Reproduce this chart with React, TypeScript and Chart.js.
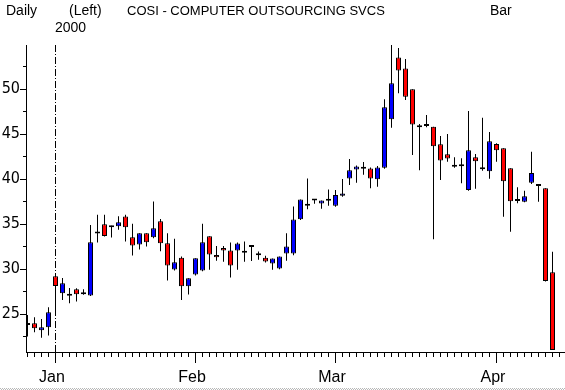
import { useEffect, useRef } from "react";
import { Chart, registerables } from "chart.js";

Chart.register(...registerables);

// ---- data (trading-day index 0..75, Dec 1999 - Apr 2000) ----
const opens = [
  23.9, 23.98, 23.2, 23.54, 29.2, 27.31, 27.13, 27.76, 27.31, 27.05,
  34.0, 34.98, 34.74, 34.76, 35.83, 33.54, 32.72, 33.98, 33.54, 35.31,
  32.87, 29.94, 31.24, 28.09, 29.39, 29.83, 33.65, 31.57, 32.33, 32.06,
  32.06, 31.91, 32.6, 31.65, 31.24, 30.61, 30.06, 31.72, 31.72, 35.54,
  37.02, 37.73, 37.28, 37.69, 37.03, 38.14, 40.07, 41.07, 41.25, 41.18,
  39.96, 41.25, 46.63, 53.51, 52.29, 49.96, 45.85, 45.99, 45.82, 43.85,
  42.74, 41.48, 41.52, 38.78, 42.41, 41.3, 40.85, 43.89, 43.41, 41.19,
  37.67, 37.48, 39.59, 39.34, 38.96, 29.63,
];
const highs = [
  24.9, 24.65, 24.46, 25.76, 29.46, 29.0, 27.9, 27.87, 27.76, 34.9,
  36.02, 36.02, 34.8, 35.87, 36.02, 35.02, 33.98, 33.98, 37.5, 35.57,
  33.98, 33.35, 31.39, 28.98, 31.2, 35.02, 33.65, 32.55, 32.55, 32.95,
  32.95, 33.06, 32.62, 31.95, 31.47, 31.17, 31.39, 33.98, 36.95, 37.73,
  40.06, 37.73, 37.61, 38.84, 38.77, 40.0, 42.22, 41.51, 41.88, 41.29,
  41.44, 48.85, 54.88, 54.55, 53.33, 49.96, 46.11, 47.11, 45.82, 44.77,
  45.0, 42.41, 42.3, 47.56, 42.78, 46.82, 45.22, 43.96, 43.41, 41.19,
  39.08, 38.7, 43.04, 39.34, 38.96, 31.93,
];
const lows = [
  22.5, 22.98, 22.35, 22.6, 24.8, 26.57, 26.2, 26.39, 27.13, 27.0,
  32.94, 33.6, 33.5, 34.35, 33.05, 31.5, 32.17, 32.5, 33.42, 31.98,
  28.72, 29.83, 26.57, 27.17, 29.28, 29.76, 29.91, 30.92, 30.8, 29.06,
  29.91, 30.8, 30.9, 31.02, 30.72, 29.91, 29.98, 30.91, 31.54, 35.46,
  36.65, 37.24, 36.69, 37.02, 36.92, 38.03, 39.33, 39.59, 40.48, 38.96,
  39.14, 41.14, 45.7, 49.52, 48.77, 42.66, 40.96, 45.74, 33.3, 39.88,
  41.92, 41.26, 39.52, 38.7, 38.93, 40.93, 40.04, 41.93, 35.82, 34.15,
  37.3, 37.41, 39.45, 37.48, 28.6, 21.0,
];
const closes = [
  23.9, 23.42, 23.54, 25.2, 28.1, 28.42, 27.13, 27.2, 27.31, 32.98,
  34.1, 33.68, 34.74, 35.2, 34.65, 32.61, 33.98, 32.98, 34.54, 32.87,
  30.39, 30.76, 28.09, 28.98, 31.2, 32.98, 31.61, 31.31, 32.05, 30.39,
  32.84, 31.91, 32.52, 31.65, 30.84, 31.17, 31.39, 32.5, 35.5, 37.73,
  37.24, 37.73, 37.61, 37.69, 38.22, 38.4, 40.96, 41.4, 41.25, 40.07,
  41.29, 47.96, 50.63, 52.07, 49.14, 46.07, 45.85, 45.99, 43.63, 42.07,
  42.29, 41.48, 41.52, 43.19, 41.97, 41.08, 44.19, 43.19, 39.74, 37.52,
  37.67, 38.08, 40.67, 39.34, 28.67, 21.0,
];

const monthLabels = ["Jan", "Feb", "Mar", "Apr"];
const monthStartIdx = [4, 24, 44, 67];
const yearStartIdx = 4;
const yTickLabels = [25, 30, 35, 40, 45, 50];
const yMinorTicks = [22.5, 25, 27.5, 30, 32.5, 35, 37.5, 40, 42.5, 45, 47.5, 50, 52.5];

const titleLeft = "Daily";
const titleMode = "(Left)";
const titleName = "COSI - COMPUTER OUTSOURCING SVCS";
const titleType = "Bar";
const yearLabel = "2000";

const RED = "#ff0000";
const BLUE = "#0000ff";
const NARROW = "'Liberation Sans Narrow', 'Arial Narrow', 'DejaVu Sans Condensed', 'Liberation Sans', sans-serif";
const SANS = "'Liberation Sans', Arial, sans-serif";

export default function App() {
  const ref = useRef<HTMLCanvasElement>(null);

  useEffect(() => {
    if (!ref.current) return;
    const n = opens.length;
    const idx = opens.map((_, i) => i);
    const wickData = idx.map((i) => ({ x: i, y: [lows[i], highs[i]] }));
    const bodyData = idx.map((i) => {
      let lo = Math.min(opens[i], closes[i]);
      let hi = Math.max(opens[i], closes[i]);
      if (hi - lo < 0.22) {
        const m = (lo + hi) / 2;
        lo = m - 0.11;
        hi = m + 0.11;
      }
      return { x: i, y: [lo, hi] };
    });
    const bodyColors = idx.map((i) =>
      Math.abs(closes[i] - opens[i]) < 0.15 ? "#000" : closes[i] > opens[i] ? BLUE : RED
    );

    const decor = {
      id: "decor",
      beforeDatasetsDraw(chart: any) {
        const { ctx, chartArea, scales } = chart;
        const dx = Math.floor(scales.x.getPixelForValue(yearStartIdx)) + 0.5;
        ctx.save();
        ctx.strokeStyle = "#000";
        ctx.lineWidth = 1;
        ctx.setLineDash([7, 2, 1, 2]);
        ctx.beginPath();
        ctx.moveTo(dx, chartArea.top);
        ctx.lineTo(dx, chartArea.bottom);
        ctx.stroke();
        ctx.restore();
      },
      afterDraw(chart: any) {
        const { ctx, chartArea, scales } = chart;
        const { x, y } = scales;
        ctx.save();
        ctx.fillStyle = "#000";
        const base = Math.round(chartArea.bottom);
        for (let i = 0; i <= n; i++) {
          const px = Math.floor(x.getPixelForValue(i));
          const major = monthStartIdx.includes(i);
          ctx.fillRect(px, base, 1, major ? 11 : 5);
        }
        const left = Math.round(chartArea.left);
        for (const v of yMinorTicks) {
          const py = Math.floor(y.getPixelForValue(v) + 0.01);
          const major = v % 5 === 0;
          const len = major ? 6 : 3;
          ctx.fillRect(left - len, py, len, 1);
        }
        // titles
        ctx.textBaseline = "alphabetic";
        ctx.textAlign = "left";
        ctx.font = "14px " + SANS;
        ctx.fillText(titleLeft, 6, 15);
        ctx.fillText(titleMode, 69, 15);
        ctx.fillText(titleType, 490, 15);
        ctx.fillText(yearLabel, 55, 32);
        ctx.font = "13px " + SANS;
        ctx.fillText(titleName, 127, 15);
        // bottom dotted strip
        ctx.fillStyle = "#b8b8b8";
        for (let px = 0; px < 565; px += 2) {
          ctx.fillRect(px, 388, 1, 1);
          ctx.fillRect(px + 1, 389, 1, 1);
        }
        ctx.restore();
      },
    };

    const chart = new Chart(ref.current, {
      type: "bar",
      data: {
        datasets: [
          {
            label: "body",
            data: bodyData as any,
            backgroundColor: bodyColors,
            borderColor: "#000",
            borderWidth: 1,
            borderSkipped: false,
            barThickness: 5,
            grouped: false,
            inflateAmount: 0,
            order: 0,
          } as any,
          {
            label: "wick",
            data: wickData as any,
            backgroundColor: "#000",
            borderWidth: 0,
            barThickness: 1,
            grouped: false,
            inflateAmount: 0,
            order: 1,
          } as any,
        ],
      },
      options: {
        animation: false,
        responsive: false,
        maintainAspectRatio: false,
        layout: { padding: { top: 45, left: 0, right: 0, bottom: 0 } },
        plugins: { legend: { display: false }, tooltip: { enabled: false }, title: { display: false } },
        scales: {
          x: {
            type: "linear",
            offset: false,
            min: -0.2143,
            max: 76.7857,
            grid: { display: false, drawTicks: false, offset: false },
            border: { display: true, color: "#000", width: 1 },
            afterBuildTicks: (scale: any) => {
              scale.ticks = monthStartIdx.map((v) => ({ value: v }));
            },
            afterFit: (scale: any) => {
              scale.height = 38;
            },
            ticks: {
              autoSkip: false,
              maxRotation: 0,
              padding: 16,
              labelOffset: -3.5,
              color: "#000",
              font: { family: SANS, size: 16 },
              callback: (v: any) => {
                const k = monthStartIdx.indexOf(Number(v));
                return k >= 0 ? monthLabels[k] : "";
              },
            },
          } as any,
          y: {
            type: "linear",
            min: 20.78,
            max: 54.89,
            grid: { display: false, drawTicks: false },
            border: { display: true, color: "#000", width: 1 },
            afterBuildTicks: (scale: any) => {
              scale.ticks = yTickLabels.map((v) => ({ value: v }));
            },
            afterFit: (scale: any) => {
              scale.width = 26;
            },
            ticks: {
              autoSkip: false,
              padding: 6,
              color: "#000",
              font: { family: NARROW, size: 16 },
              callback: (v: any) => String(v),
            },
          },
        },
      },
      plugins: [decor],
    });
    return () => chart.destroy();
  }, []);

  return (
    <div style={{ position: "fixed", left: 0, top: 0, width: 565, height: 390, background: "#fff" }}>
      <canvas ref={ref} width={565} height={390} style={{ display: "block" }} />
    </div>
  );
}
